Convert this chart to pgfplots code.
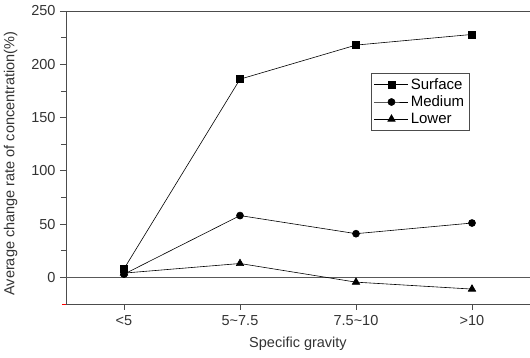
\documentclass[border=0pt]{standalone}
\usepackage{pgfplots}
\pgfplotsset{compat=1.18}
\usepackage{fontspec}
\setmainfont{Liberation Sans}
\begin{document}
\begin{tikzpicture}
\begin{axis}[
  name=ax,
  scale only axis, width=464pt, height=293pt,
  xmin=-0.5, xmax=3.5, ymin=-25, ymax=250,
  axis x line=box, axis y line=left,
  axis line style={-, line width=0.9pt, black!70},
  xtick={0,1,2,3}, xticklabels={{<5},{5\textasciitilde7.5},{7.5\textasciitilde10},{>10}},
  ytick={0,50,100,150,200,250}, minor ytick={25,75,125,175,225},
  extra y ticks={-25}, extra y tick labels={},
  extra y tick style={major tick length=4pt, tick style={red, line width=0.8pt}},
  tick align=outside, tick pos=left,
  major tick length=6pt, minor tick length=5pt,
  every tick/.style={black!70, line width=0.7pt},
  tick label style={font=\fontsize{14.5}{16}\selectfont, text=black!80},
  xticklabel style={yshift=-2pt},
  yticklabel style={xshift=-1pt},
  /pgf/number format/assume math mode=true,
  xlabel={Specific gravity}, ylabel={Average change rate of concentration(\%)},
  label style={font=\fontsize{14.5}{16}\selectfont, text=black!80},
  xlabel style={yshift=-4pt},
  ylabel style={yshift=-3pt, xshift=-6pt},
  legend style={at={(0.657,0.788)}, anchor=north west, draw=black!70, line width=0.7pt,
    font=\fontsize{15}{17}\selectfont, row sep=1pt, inner xsep=3pt, inner ysep=3pt},
  legend image code/.code={\draw[mark repeat=2, mark phase=2, #1] plot coordinates {(0pt,0pt) (17pt,0pt) (34pt,0pt)};},
  legend cell align=left,
  clip=false,
]
\draw[black!65, line width=0.9pt] (axis cs:-0.5,0) -- (axis cs:3.5,0);
\addplot[black, line width=0.6pt, mark=square*, mark size=3.5pt] coordinates {(0,8) (1,186) (2,218) (3,228)};
\addlegendentry{Surface}
\addplot[black, line width=0.6pt, mark=*, mark size=3.5pt] coordinates {(0,3) (1,58) (2,41) (3,51)};
\addlegendentry{Medium}
\addplot[black, line width=0.6pt, mark=triangle*, mark size=4.3pt] coordinates {(0,4) (1,13) (2,-4.5) (3,-11)};
\addlegendentry{Lower}
\end{axis}
\pgfresetboundingbox
\useasboundingbox ([shift={(-66pt,-54pt)}]ax.south west) rectangle ([shift={(0pt,11pt)}]ax.north east);
\end{tikzpicture}
\end{document}
